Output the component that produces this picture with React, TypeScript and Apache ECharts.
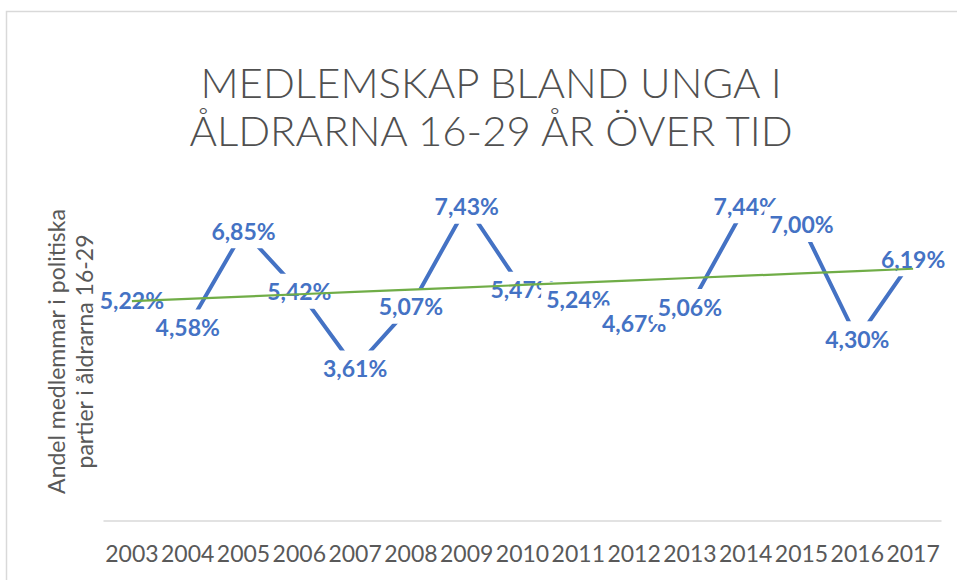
import React, { useEffect, useRef } from "react";
import * as echarts from "echarts";

const titleLines = ["MEDLEMSKAP BLAND UNGA I", "ÅLDRARNA 16-29 ÅR ÖVER TID"];
const yAxisTitle = ["Andel medlemmar i politiska", "partier i åldrarna 16-29"];
const years = ["2003", "2004", "2005", "2006", "2007", "2008", "2009", "2010", "2011", "2012", "2013", "2014", "2015", "2016", "2017"];
const shares = [5.22, 4.58, 6.85, 5.42, 3.61, 5.07, 7.43, 5.47, 5.24, 4.67, 5.06, 7.44, 7.0, 4.3, 6.19];

// Linear trendline (least squares) as Excel computes it from the data
function linearTrend(values: number[]): number[] {
  const n = values.length;
  const mx = (n - 1) / 2;
  const my = values.reduce((a, b) => a + b, 0) / n;
  let sxy = 0;
  let sxx = 0;
  values.forEach((v, i) => {
    sxy += (i - mx) * (v - my);
    sxx += (i - mx) * (i - mx);
  });
  const slope = sxy / sxx;
  return values.map((_, i) => my + slope * (i - mx));
}

const trend = linearTrend(shares);

const FONT = "Lato, 'Open Sans', sans-serif";

export default function App() {
  const ref = useRef<HTMLDivElement>(null);
  useEffect(() => {
    if (!ref.current) return;
    const chart = echarts.init(ref.current, undefined, { renderer: "svg" });
    chart.setOption({
      animation: false,
      backgroundColor: "#ffffff",
      title: {
        text: titleLines.join("\n"),
        left: 486,
        top: 53,
        textAlign: "center",
        textStyle: {
          fontFamily: FONT,
          fontWeight: 300,
          fontSize: 42,
          lineHeight: 48,
          color: "#505050",
        },
      },
      graphic: [
        {
          type: "rect",
          shape: { x: 6.5, y: 11.5, width: 1000, height: 1000 },
          style: { fill: "none", stroke: "#d9d9d9", lineWidth: 1.5 },
          silent: true,
          z: -1,
        },
      ],
      grid: { left: 104, right: 16, top: 182, bottom: 59 },
      xAxis: {
        type: "category",
        data: years,
        boundaryGap: true,
        axisLine: { show: true, lineStyle: { color: "#d9d9d9", width: 1.5 } },
        axisTick: { show: false },
        axisLabel: {
          interval: 0,
          margin: 20,
          fontFamily: FONT,
          fontSize: 23,
          color: "#595959",
        },
      },
      yAxis: {
        type: "value",
        min: 0,
        max: 8,
        interval: 1,
        axisLine: { show: false },
        axisTick: { show: false },
        axisLabel: { show: false },
        splitLine: { show: false },
        name: yAxisTitle.join("\n"),
        nameLocation: "middle",
        nameRotate: 90,
        nameGap: 6,
        nameTextStyle: {
          fontFamily: FONT,
          fontSize: 23,
          lineHeight: 28,
          color: "#595959",
        },
      },
      series: [
        {
          name: "Andel",
          type: "line",
          data: shares,
          z: 2,
          symbol: "circle",
          symbolSize: 0,
          showSymbol: true,
          lineStyle: { color: "#4472C4", width: 4 },
          itemStyle: { color: "#4472C4" },
          label: {
            show: true,
            position: "inside",
            formatter: (p: any) => Number(p.value).toFixed(2).replace(".", ",") + "%",
            fontFamily: FONT,
            fontWeight: "bold",
            fontSize: 23,
            color: "#4472C4",
            backgroundColor: "#ffffff",
            padding: [6, 5],
          },
          labelLayout: { hideOverlap: false },
        },
        {
          name: "Trend",
          type: "line",
          data: trend,
          z: 5,
          symbol: "none",
          silent: true,
          lineStyle: { color: "#70AD47", width: 2.2 },
          label: { show: false },
        },
      ],
    });
    return () => chart.dispose();
  }, []);
  return (
    <div
      ref={ref}
      style={{ position: "fixed", left: 0, top: 0, width: 957, height: 580 }}
    />
  );
}
